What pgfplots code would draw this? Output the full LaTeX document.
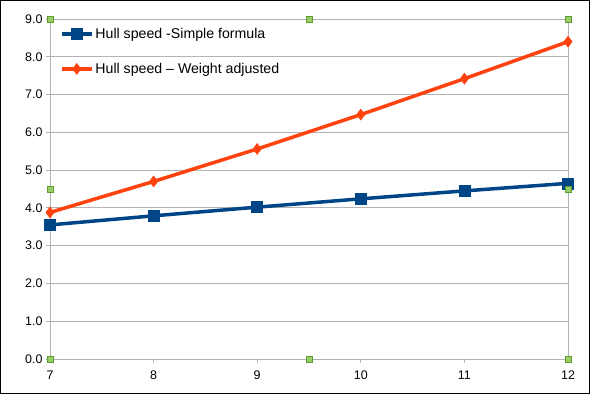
\documentclass[border=0pt]{standalone}
\usepackage{fontspec}
\setmainfont{Liberation Sans}
\usepackage{pgfplots}
\pgfplotsset{compat=1.18}
\definecolor{sblue}{HTML}{004586}
\definecolor{sorange}{HTML}{FF420E}
\definecolor{hgreen}{HTML}{99CC66}
\definecolor{hgreenb}{HTML}{5E9E2E}
\definecolor{gridgray}{HTML}{B3B3B3}
\begin{document}
\begin{tikzpicture}[x=1bp,y=1bp]
\path[use as bounding box] (0,0) rectangle (590,394);
\draw[black, line width=1bp] (0.5,0.5) rectangle (589.5,393.5);
\begin{axis}[
  at={(50bp,35bp)}, anchor=south west,
  scale only axis, width=518bp, height=340bp,
  xmin=7, xmax=12, ymin=0, ymax=9,
  xtick={7,8,9,10,11,12}, ytick={0,1,2,3,4,5,6,7,8,9},
  ymajorgrids, grid style={gridgray, line width=0.8bp},
  axis line style={gridgray, line width=0.8bp},
  tick style={gridgray, line width=0.8bp},
  tick align=outside, xtick pos=bottom, ytick pos=left,
  major tick length=4bp,
  yticklabel style={/pgf/number format/.cd, fixed, fixed zerofill, precision=1},
  xticklabel style={yshift=-4bp},
  /pgf/number format/assume math mode=true,
  ticklabel style={font=\fontsize{12.5}{15}\selectfont, text=black},
  clip=false,
  legend style={at={(0.015,0.985)}, anchor=north west, draw=none, fill=none,
    font=\fontsize{14.2}{16}\selectfont, row sep=19bp, inner sep=2bp},
  legend cell align=left,
  legend image code/.code={\draw[#1, mark repeat=2, mark phase=2] plot coordinates {(0bp,0bp) (15bp,0bp) (30bp,0bp)};},
]
\addplot[sblue, line width=3.5bp, mark=square*, mark size=5.5bp, mark options={line width=0.5bp}] coordinates {
 (7,3.55) (8,3.79) (9,4.02) (10,4.24) (11,4.45) (12,4.65)};
\addlegendentry{Hull speed -Simple formula}
\addplot[sorange, line width=3.5bp, mark=diamond*, mark size=5.5bp, mark options={line width=0.5bp}] coordinates {
 (7,3.88) (8,4.70) (9,5.56) (10,6.47) (11,7.42) (12,8.40)};
\addlegendentry{Hull speed -- Weight adjusted}
\addplot[only marks, mark=square*, mark size=3bp, draw=hgreenb, fill=hgreen, mark options={line width=0.8bp}, forget plot] coordinates {
 (7,0) (9.5,0) (12,0) (7,4.5) (12,4.5) (7,9) (9.5,9) (12,9)};
\end{axis}
\end{tikzpicture}
\end{document}
